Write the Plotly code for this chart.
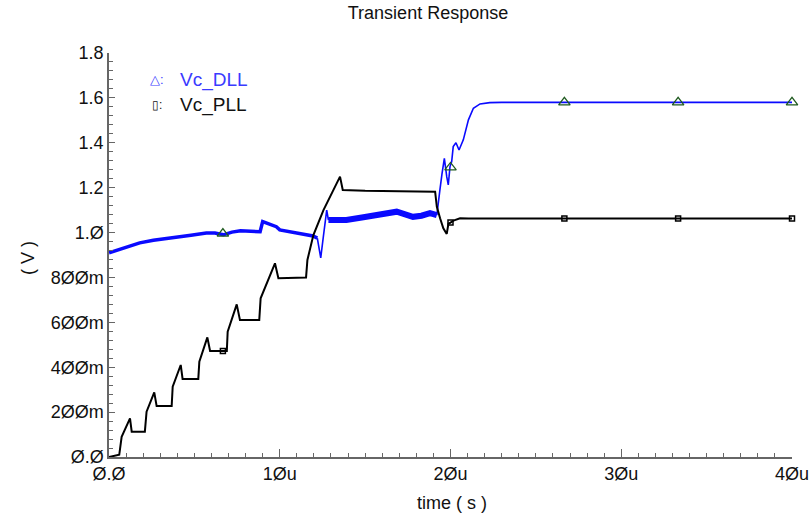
import plotly.graph_objects as go

# ---- data (time in microseconds, voltage in V) ----
t_dll = [0.0, 0.6, 1.2, 1.8, 2.6, 3.75, 4.8, 5.7, 6.2, 6.7, 7.2, 7.7, 8.3, 8.85, 9.0, 9.4, 9.8, 10.0, 10.8, 11.6, 11.95, 12.2,
         12.3, 12.4, 12.55, 12.75, 12.85,
         13.3, 13.9, 14.9, 15.9, 16.85, 17.8, 18.3, 18.8, 19.2,
         19.3, 19.38, 19.5, 19.64, 19.78, 19.87, 19.97, 20.07, 20.16, 20.32, 20.5, 20.75, 21.05, 21.34, 21.73, 22.3, 23.0, 26.67, 33.33, 40.0]
v_dll = [0.910, 0.925, 0.940, 0.954, 0.966, 0.976, 0.988, 0.998, 0.998, 0.990, 1.002, 1.008, 1.005, 1.004, 1.049, 1.038, 1.026, 1.012, 1.002, 0.990, 0.985, 0.975,
         0.930, 0.887, 0.980, 1.100, 1.056,
         1.055, 1.056, 1.068, 1.078, 1.093, 1.070, 1.075, 1.087, 1.078,
         1.130, 1.190, 1.260, 1.331, 1.249, 1.212, 1.294, 1.316, 1.383, 1.400, 1.368, 1.413, 1.502, 1.554, 1.573, 1.579, 1.580, 1.580, 1.580, 1.580]

t_pll = [0.0, 0.6, 0.74, 1.23, 1.33, 2.1, 2.2, 2.65, 2.79, 3.67, 3.73, 4.2, 4.31, 5.23, 5.29, 5.76, 5.92, 6.9, 6.95, 7.48, 7.67,
         8.8, 8.88, 9.72, 9.92, 11.54, 11.62, 11.97, 12.56, 13.14, 13.37, 13.53, 13.69, 15.0, 17.0, 19.1,
         19.2, 19.29, 19.39, 19.58, 19.78, 19.88, 19.94, 20.17, 20.56, 21.05, 26.67, 33.33, 40.0]
v_pll = [0.0, 0.010, 0.090, 0.172, 0.113, 0.113, 0.202, 0.288, 0.227, 0.227, 0.313, 0.410, 0.348, 0.348, 0.425, 0.533, 0.472, 0.472, 0.558, 0.680, 0.610,
         0.610, 0.707, 0.863, 0.796, 0.800, 0.878, 0.989, 1.100, 1.190, 1.227, 1.249, 1.190, 1.186, 1.184, 1.182,
         1.115, 1.086, 1.064, 1.019, 0.994, 1.040, 1.041, 1.053, 1.064, 1.063, 1.063, 1.063, 1.063]

marker_t = [6.67, 20.0, 26.67, 33.33, 40.0]
dll_marker_v = [0.995, 1.29, 1.580, 1.580, 1.580]
pll_marker_v = [0.472, 1.045, 1.063, 1.063, 1.063]

x_tickvals = [0, 10, 20, 30, 40]
x_ticktext = ["Ø.Ø", "1Øu", "2Øu", "3Øu", "4Øu"]
y_tickvals = [0.0, 0.2, 0.4, 0.6, 0.8, 1.0, 1.2, 1.4, 1.6, 1.8]
y_ticktext = ["Ø.Ø", "2ØØm", "4ØØm", "6ØØm", "8ØØm", "1.Ø", "1.2", "1.4", "1.6", "1.8"]

BLUE = "#0a0aff"
FONT = "Liberation Sans, Arial, sans-serif"
TXT = "#111111"

fig = go.Figure()

# DLL drawn in segments: thicker where the trace carries ripple
segs = [(0, 22, 3.5), (21, 27, 1.6), (26, 36, 6.0), (35, len(t_dll), 1.6)]
for a, b, w in segs:
    fig.add_trace(go.Scatter(x=t_dll[a:b], y=v_dll[a:b], mode="lines",
                             line=dict(color=BLUE, width=w), showlegend=False,
                             hoverinfo="skip", cliponaxis=False))

fig.add_trace(go.Scatter(x=t_pll, y=v_pll, mode="lines", line=dict(color="#000000", width=2),
                         showlegend=False, cliponaxis=False, name="Vc_PLL"))

fig.add_trace(go.Scatter(x=marker_t, y=dll_marker_v, mode="markers",
                         marker=dict(symbol="triangle-up-open", size=10, color="#1f5a1f",
                                     line=dict(width=1.3)),
                         showlegend=False, cliponaxis=False, name="Vc_DLL"))
fig.add_trace(go.Scatter(x=marker_t, y=pll_marker_v, mode="markers",
                         marker=dict(symbol="square-open", size=5, color="#000000",
                                     line=dict(width=1.5, color="#000000")),
                         showlegend=False, cliponaxis=False))

axis_common = dict(showline=True, linecolor="#666666", linewidth=1.5, showgrid=False, zeroline=False,
                   automargin=False, ticks="inside", tickcolor="#666666", ticklabeloverflow="allow",
                   tickfont=dict(family=FONT, size=18, color=TXT))

fig.update_xaxes(range=[0, 40], tickmode="array", tickvals=x_tickvals, ticktext=x_ticktext, ticklen=8,
                 minor=dict(ticks="inside", dtick=1, ticklen=4, tickcolor="#666666"), **axis_common)
fig.update_yaxes(range=[0, 1.8], tickmode="array", tickvals=y_tickvals, ticktext=y_ticktext, ticklen=6,
                 minor=dict(ticks="inside", dtick=0.04, ticklen=4, tickcolor="#666666"), **axis_common)

fig.update_layout(
    width=809, height=516,
    margin=dict(l=109, r=17, t=53, b=59),
    paper_bgcolor="#ffffff", plot_bgcolor="#ffffff",
    title=dict(text="Transient Response", x=428 / 809, xanchor="center", y=1 - 13 / 516, yanchor="middle",
               font=dict(family=FONT, size=18, color=TXT)),
    showlegend=False,
    annotations=[
        dict(text="( V )", xref="paper", yref="paper", x=(28 - 109) / 683, y=(457 - 258) / 404,
             textangle=-90, showarrow=False, xanchor="center", yanchor="middle",
             font=dict(family=FONT, size=18, color=TXT)),
        dict(text="time ( s )", xref="paper", yref="paper", x=(452 - 109) / 683, y=(457 - 503) / 404,
             showarrow=False, xanchor="center", yanchor="middle",
             font=dict(family=FONT, size=18, color=TXT)),
        dict(text="△:", xref="paper", yref="paper", x=(148 - 109) / 683, y=(457 - 80) / 404,
             showarrow=False, xanchor="left", yanchor="middle",
             font=dict(family=FONT, size=13, color="#4040ff")),
        dict(text="Vc_DLL", xref="paper", yref="paper", x=(178 - 109) / 683, y=(457 - 80) / 404,
             showarrow=False, xanchor="left", yanchor="middle",
             font=dict(family=FONT, size=19, color="#3a3aff")),
        dict(text="▯:", xref="paper", yref="paper", x=(150 - 109) / 683, y=(457 - 105) / 404,
             showarrow=False, xanchor="left", yanchor="middle",
             font=dict(family=FONT, size=12, color=TXT)),
        dict(text="Vc_PLL", xref="paper", yref="paper", x=(178 - 109) / 683, y=(457 - 105) / 404,
             showarrow=False, xanchor="left", yanchor="middle",
             font=dict(family=FONT, size=19, color=TXT)),
    ],
)

fig.write_html("out.html", config={"displayModeBar": False},
               post_script="document.body.style.margin='0';document.body.style.padding='0';"
                           "document.documentElement.style.overflow='hidden';")
